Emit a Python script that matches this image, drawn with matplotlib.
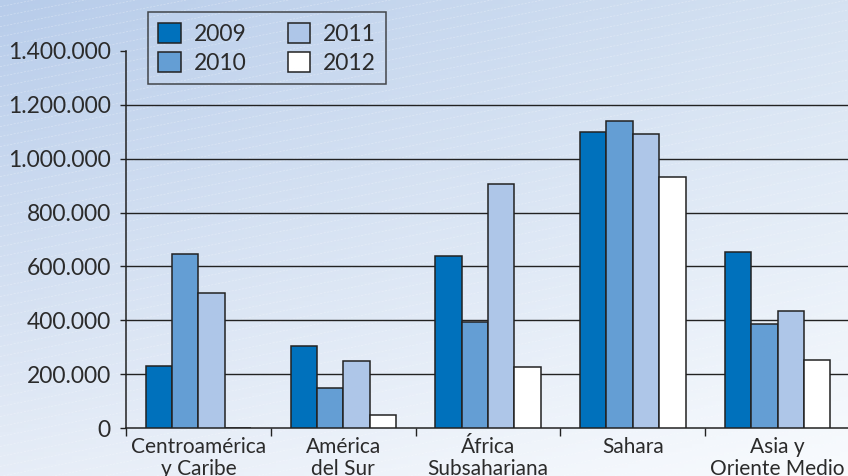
"""Grouped bar chart: population per region, 2009-2012."""
import matplotlib
matplotlib.use("Agg")
import matplotlib.pyplot as plt
import numpy as np
from matplotlib.ticker import FuncFormatter, FixedLocator

REGIONS = ["Centroamérica\ny Caribe", "América\ndel Sur", "África\nSubsahariana",
           "Sahara", "Asia y\nOriente Medio"]
YEARS = ["2009", "2010", "2011", "2012"]
V2009 = [230000, 305000, 640000, 1100000, 655000]
V2010 = [645000, 150000, 395000, 1140000, 387000]
V2011 = [500000, 250000, 905000, 1090000, 435000]
V2012 = [0, 48000, 228000, 930000, 255000]
Y_TICKS = [0, 200000, 400000, 600000, 800000, 1000000, 1200000, 1400000]

COLORS = ["#0071bc", "#649ed4", "#aec6e8", "#ffffff"]
EDGE = "#222222"
TEXT = "#2b2b2b"

plt.rcParams["font.family"] = ["Lato", "DejaVu Sans"]

fig = plt.figure(figsize=(8.48, 4.76), dpi=100)

# background gradient with faint diagonal stripes
bg = fig.add_axes([0, 0, 1, 1], zorder=-10)
h, w = 120, 212
yy, xx = np.mgrid[0:1:h * 1j, 0:1:w * 1j]
tl = np.array([0.718, 0.800, 0.918])
tr = np.array([0.835, 0.886, 0.949])
bl = np.array([0.902, 0.929, 0.969])
br = np.array([0.975, 0.985, 0.996])
img = ((1 - xx)[..., None] * (1 - yy)[..., None] * tl + xx[..., None] * (1 - yy)[..., None] * tr
       + (1 - xx)[..., None] * yy[..., None] * bl + xx[..., None] * yy[..., None] * br)
bg.imshow(img, extent=[0, 1, 0, 1], aspect="auto", origin="upper")
for c in np.arange(-0.4, 1.0, 0.021):
    bg.plot([0, 1], [c, c + 0.35], color="white", lw=0.5, alpha=0.35,
            ls=(0, (3, 2)))
bg.set_xlim(0, 1)
bg.set_ylim(0, 1)
bg.axis("off")

ax = fig.add_axes([0.1486, 0.1002, 0.8538, 0.7933])
ax.patch.set_alpha(0)

series = [V2009, V2010, V2011, V2012]
x = np.arange(len(REGIONS)) + 0.5
bar_w = 0.182
for i, (year, vals) in enumerate(zip(YEARS, series)):
    offset = (i - 1.5) * bar_w
    ax.bar(x + offset, vals, bar_w, color=COLORS[i], edgecolor=EDGE,
           linewidth=1.1, label=year, zorder=3)

ax.set_xlim(0, len(REGIONS))
ax.set_ylim(0, 1400000)

ax.yaxis.set_major_locator(FixedLocator(Y_TICKS))
ax.yaxis.set_major_formatter(FuncFormatter(lambda v, p: f"{int(v):,}".replace(",", ".")))
for yv in Y_TICKS[1:-1]:
    ax.axhline(yv, color=EDGE, lw=1.0, zorder=1)

ax.set_xticks(np.arange(len(REGIONS) + 1))
ax.set_xticklabels([])
ax.set_xticks(x, minor=True)
ax.set_xticklabels(REGIONS, minor=True, fontsize=15, color=TEXT, linespacing=1.12)
ax.tick_params(axis="x", which="major", length=6, width=1.0, color=EDGE, direction="out")
ax.tick_params(axis="x", which="minor", length=0, pad=6.5)
ax.tick_params(axis="y", length=4, width=1.0, color=EDGE, direction="out",
               labelsize=16.5, labelcolor=TEXT, pad=7)

ax.spines[["top", "right"]].set_visible(False)
ax.spines["left"].set_color(EDGE)
ax.spines["bottom"].set_color(EDGE)
ax.spines["left"].set_linewidth(1.1)
ax.spines["bottom"].set_linewidth(1.1)

leg = ax.legend(ncol=2, loc="upper left", bbox_to_anchor=(0.030, 1.1017), borderaxespad=0,
                fontsize=16.5, frameon=True, fancybox=False, handlelength=1.0,
                handleheight=1.0, handletextpad=0.55, columnspacing=1.8,
                labelspacing=0.3, borderpad=0.45, labelcolor=TEXT)
leg.get_frame().set_edgecolor(EDGE)
leg.get_frame().set_facecolor("none")
leg.get_frame().set_linewidth(1.1)
for p in leg.get_patches():
    p.set_edgecolor(EDGE)

fig.savefig("out.png", dpi=100)
